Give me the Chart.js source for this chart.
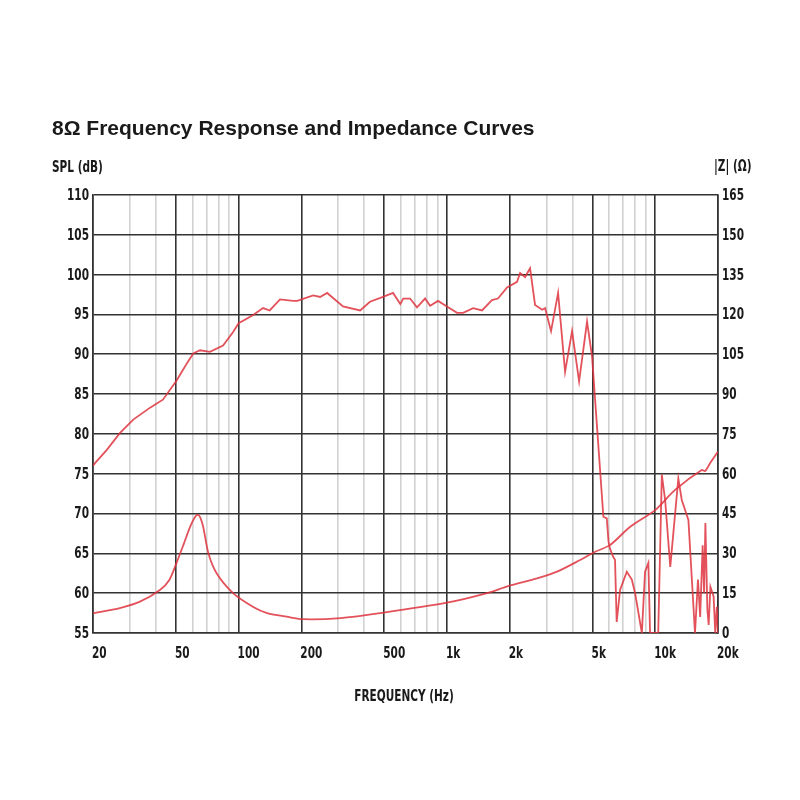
<!DOCTYPE html>
<html>
<head>
<meta charset="utf-8">
<title>8Ω Frequency Response and Impedance Curves</title>
<script src="https://cdn.jsdelivr.net/npm/chart.js@4.4.1/dist/chart.umd.min.js"></script>
<style>
  html, body { margin: 0; padding: 0; background: #fff; }
  canvas { display: block; }
</style>
</head>
<body>
<canvas id="chart" width="800" height="800"></canvas>
<script>
const chartTitle = "8Ω Frequency Response and Impedance Curves";
const splTitle = "SPL (dB)";
const impTitle = "|Z| (Ω)";
const freqTitle = "FREQUENCY (Hz)";

// grid frequencies (log axis), the labelled ones get the dark lines
const gridFreqs = [20, 30, 40, 50, 60, 70, 80, 90, 100, 200, 300, 400, 500, 600, 700, 800, 900,
  1000, 2000, 3000, 4000, 5000, 6000, 7000, 8000, 9000, 10000, 20000];
const majorFreqs = [20, 50, 100, 200, 500, 1000, 2000, 5000, 10000, 20000];
const freqLabels = ["20", "50", "100", "200", "500", "1k", "2k", "5k", "10k", "20k"];

// SPL curve (dB)
const splFreq = [20, 20.4, 23.3, 26.9, 31.2, 37.6, 43.3, 50.4, 56.3, 60.6, 65.3, 72.8, 84.2, 94.1, 100,
  117, 131, 141, 158, 183, 191, 228, 246, 266, 317, 383, 427, 493, 551, 597, 617, 665, 718, 785, 830,
  906, 1000, 1118, 1196, 1335, 1474, 1644, 1757, 1944, 2170, 2244, 2371, 2506, 2648, 2863, 2958, 3160,
  3416, 3690, 3986, 4308, 4704, 4972, 5634, 5852, 5962, 6058, 6294, 6408, 6527, 6776, 7300, 7716, 8000,
  8620, 8932, 9264, 9440, 10330, 10750, 11150, 11800, 12900, 13400, 14420, 15510, 16030, 16420, 16880,
  17150, 17400, 17780, 18040, 18390, 19050, 19400, 19740, 20000];
const splDb = [76.0, 76.3, 78.0, 80.1, 81.8, 83.3, 84.3, 86.7, 88.8, 90.1, 90.5, 90.3, 91.1, 92.8, 93.9,
  94.9, 95.8, 95.5, 96.9, 96.7, 96.7, 97.4, 97.2, 97.7, 96.0, 95.5, 96.6, 97.2, 97.7, 96.3, 97.0, 97.0, 95.9, 97.0, 96.1,
  96.7, 96.0, 95.2, 95.2, 95.8, 95.5, 96.8, 97.0, 98.4, 99.1, 100.2, 99.7, 100.8, 96.2, 95.6, 95.8, 92.9,
  97.7, 87.8, 92.9, 86.6, 94.1, 89.7, 69.6, 69.4, 66.5, 65.6, 64.5, 64.2, 56.4, 60.4, 62.7, 61.7, 60.0,
  55, 62.7, 63.8, 55, 55, 74.9, 71.7, 63.3, 74.4, 71.7, 69.2, 55, 61.7, 57, 66,
  60, 68.8, 58, 56, 60.8, 59.6, 55, 58.3, 55];

// impedance curve (ohm)
const impFreq = [20, 26.9, 33.6, 41.9, 46.5, 50.4, 54.5, 58.5, 61.9, 63.8, 65.5, 67.6, 71.6, 78.4, 94.1,
  117, 137, 177, 202, 297, 488, 1000, 1558, 1965, 2708, 3378, 4356, 5146, 6058, 7580, 9988, 12440,
  16710, 17330, 18340, 19740, 20000];
const impOhm = [7.4, 9.4, 11.8, 16.2, 20, 26.5, 33.5, 40, 43.8, 44.5, 43.5, 40, 30, 22.5, 15,
  9.9, 7.5, 5.9, 5.2, 5.5, 7.6, 11.4, 15, 17.7, 20.6, 23.1, 27.5, 30.6, 33.1, 40, 46.3, 53.9,
  61.4, 61.0, 64, 67.7, 68.3];

const darkGrid = "#333333";
const lightGrid = "#d2d2d2";
const curveColor = "rgba(222, 52, 62, 0.85)";
const textColor = "#1a1a1a";
// the original uses a narrow condensed face; DejaVu Condensed squeezed a bit more
const condFont = "bold 15px 'DejaVu Sans Condensed', 'DejaVu Sans', sans-serif";
const squeeze = 0.78;

function squeezedText(c, text, x, y, align) {
  c.save();
  c.translate(x, y);
  c.scale(squeeze, 1);
  c.textAlign = align;
  c.fillText(text, 0, 0);
  c.restore();
}

const textPlugin = {
  id: "texts",
  afterDraw(chart) {
    const c = chart.ctx;
    const { x, y, y1 } = chart.scales;
    c.save();
    c.fillStyle = textColor;
    c.textBaseline = "alphabetic";
    c.font = "bold 21px 'Liberation Sans', Arial, sans-serif";
    c.fillText(chartTitle, 52, 135);

    c.font = condFont;
    squeezedText(c, splTitle, 52, 172, "left");
    squeezedText(c, impTitle, 714, 171, "left");
    squeezedText(c, freqTitle, 404, 701, "center");

    // tick labels, placed with the chart's own scales
    majorFreqs.forEach((f, i) => {
      squeezedText(c, freqLabels[i], x.getPixelForValue(f) - 1, 658, "left");
    });
    c.textBaseline = "middle";
    y.ticks.forEach((t) => {
      squeezedText(c, String(t.value), 89, y.getPixelForValue(t.value) + 1, "right");
    });
    y1.ticks.forEach((t) => {
      squeezedText(c, String(t.value), 722, y1.getPixelForValue(t.value) + 1, "left");
    });
    c.restore();
  }
};

new Chart(document.getElementById("chart"), {
  type: "line",
  data: {
    datasets: [
      {
        label: "SPL",
        data: splFreq.map((f, i) => ({ x: f, y: splDb[i] })),
        yAxisID: "y",
        borderColor: curveColor,
        borderWidth: 1.8,
        pointRadius: 0,
        tension: 0,
      },
      {
        label: "Impedance",
        data: impFreq.map((f, i) => ({ x: f, y: impOhm[i] })),
        yAxisID: "y1",
        borderColor: curveColor,
        borderWidth: 1.8,
        pointRadius: 0,
        tension: 0.25,
      },
    ],
  },
  options: {
    responsive: false,
    animation: false,
    layout: { padding: { top: 195, left: 40, right: 30, bottom: 0 } },
    plugins: {
      legend: { display: false },
      tooltip: { enabled: false },
      title: { display: false },
    },
    scales: {
      x: {
        type: "logarithmic",
        min: 20,
        max: 20000,
        afterBuildTicks: (scale) => {
          scale.ticks = gridFreqs.map((v) => ({ value: v }));
        },
        afterFit: (scale) => { scale.height = 167; },
        ticks: { display: false, autoSkip: false },
        grid: {
          drawTicks: false,
          lineWidth: 1.6,
          color: (ctx) => (ctx.tick && majorFreqs.includes(ctx.tick.value) ? darkGrid : lightGrid),
        },
        border: { color: darkGrid, width: 1.6 },
      },
      y: {
        position: "left",
        min: 55,
        max: 110,
        afterFit: (scale) => { scale.width = 53; },
        ticks: { display: false, stepSize: 5 },
        grid: { drawTicks: false, lineWidth: 1.6, color: darkGrid },
        border: { color: darkGrid, width: 1.6 },
      },
      y1: {
        position: "right",
        min: 0,
        max: 165,
        afterFit: (scale) => { scale.width = 52; },
        ticks: { display: false, stepSize: 15 },
        grid: { drawOnChartArea: false, drawTicks: false },
        border: { color: darkGrid, width: 1.6 },
      },
    },
  },
  plugins: [textPlugin],
});
</script>
</body>
</html>
